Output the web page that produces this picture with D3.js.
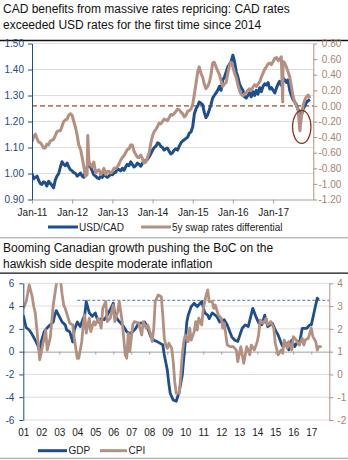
<!DOCTYPE html>
<html lang="en">
<head>
<meta charset="UTF-8">
<title>CAD rates and Canadian growth</title>
<script src="https://cdnjs.cloudflare.com/ajax/libs/d3/7.8.5/d3.min.js"></script>
<style>
  body { margin: 0; background: #fff; }
  svg { display: block; font-family: "Liberation Sans", Arial, sans-serif; }
</style>
</head>
<body>
<script>
// ---- panel 1: USD/CAD vs 5y swap differential, start and middle of each month from Jan 2011
var fxStart = new Date(2011, 0, 1);
var usdcad = [
  1.00, 0.985, 0.975, 0.958, 0.965, 0.97, 0.955, 0.975, 1.00, 1.045, 1.03, 1.025,
  1.01, 1.00, 0.995, 0.99, 1.01, 1.035, 1.01, 0.99, 0.98, 0.985, 0.99, 0.99,
  0.995, 1.005, 1.015, 1.02, 1.025, 1.03, 1.035, 1.03, 1.035, 1.04, 1.05, 1.065,
  1.09, 1.105, 1.115, 1.10, 1.095, 1.085, 1.08, 1.095, 1.105, 1.125, 1.135, 1.155,
  1.18, 1.25, 1.275, 1.265, 1.215, 1.245, 1.29, 1.31, 1.335, 1.36, 1.39, 1.42,
  1.455, 1.39, 1.345, 1.32, 1.29, 1.31, 1.315, 1.32, 1.33, 1.335, 1.34, 1.325,
  1.32, 1.33, 1.355, 1.367, 1.35, 1.32, 1.285, 1.265, 1.24, 1.25, 1.275, 1.285
];
var usdcadMid = [
  0.98, 0.99, 0.962, 0.968, 0.952, 0.962, 0.945, 0.99, 1.025, 1.035, 1.04, 1.015,
  1.003, 0.99, 1.002, 0.985, 1.025, 1.025, 0.995, 0.983, 0.99, 0.995, 0.985, 0.997,
  1.003, 1.018, 1.01, 1.012, 1.035, 1.045, 1.025, 1.04, 1.028, 1.048, 1.055, 1.075,
  1.10, 1.118, 1.105, 1.09, 1.098, 1.075, 1.09, 1.09, 1.118, 1.13, 1.14, 1.16,
  1.23, 1.26, 1.27, 1.235, 1.225, 1.265, 1.30, 1.32, 1.32, 1.37, 1.41, 1.43,
  1.43, 1.37, 1.33, 1.295, 1.30, 1.295, 1.30, 1.305, 1.315, 1.345, 1.35, 1.33,
  1.31, 1.345, 1.34, 1.36, 1.36, 1.30, 1.275, 1.245, 1.225, 1.26, 1.28
];
var swapDiff = [
  -0.46, -0.36, -0.46, -0.50, -0.54, -0.50, -0.44, -0.38, -0.32, -0.26, -0.18, -0.12,
  -0.12, -0.28, -0.50, -0.66, -0.90, -0.70, -0.78, -0.86, -0.82, -0.85, -0.88, -0.84,
  -0.84, -0.80, -0.75, -0.66, -0.60, -0.55, -0.50, -0.62, -0.66, -0.68, -0.72, -0.60,
  -0.38, -0.30, -0.22, -0.20, -0.18, -0.15, -0.12, -0.07, -0.05, -0.10, -0.12, -0.06,
  0.02, 0.30, 0.50, 0.37, 0.22, 0.30, 0.55, 0.50, 0.40, 0.25, 0.30, 0.52,
  0.50, 0.36, 0.20, 0.13, 0.17, 0.22, 0.24, 0.25, 0.31, 0.42, 0.50, 0.55,
  0.57, 0.62, 0.60, 0.57, 0.50, 0.37, 0.12, 0.00, -0.32, 0.01, 0.12, 0.10
];
var swapMid = [
  -0.40, -0.42, -0.47, -0.54, -0.49, -0.45, -0.43, -0.33, -0.32, -0.20, -0.17, -0.10,
  -0.20, -0.38, -0.55, -0.78, -0.88, -0.76, -0.72, -0.83, -0.88, -0.80, -0.84, -0.86,
  -0.80, -0.78, -0.70, -0.64, -0.56, -0.50, -0.58, -0.66, -0.63, -0.73, -0.66, -0.48,
  -0.33, -0.26, -0.23, -0.17, -0.19, -0.11, -0.10, -0.04, -0.08, -0.14, -0.07, -0.04,
  0.15, 0.44, 0.42, 0.28, 0.25, 0.40, 0.56, 0.45, 0.32, 0.28, 0.42, 0.56,
  0.42, 0.27, 0.15, 0.15, 0.20, 0.20, 0.27, 0.28, 0.37, 0.47, 0.54, 0.53,
  0.61, 0.58, 0.63, 0.55, 0.44, 0.25, 0.05, -0.05, -0.12, 0.08, 0.14
];
// one-day moves in the swap spread
var swapSpikes = [["2012-05-22", -0.38], ["2017-03-29", 0.05]];
var fxTickLabels = ["Jan-11", "Jan-12", "Jan-13", "Jan-14", "Jan-15", "Jan-16", "Jan-17"];
var fxLeftTicks = [0.90, 1.00, 1.10, 1.20, 1.30, 1.40, 1.50];
var fxRightTicks = [-1.20, -1.00, -0.80, -0.60, -0.40, -0.20, 0.00, 0.20, 0.40, 0.60, 0.80];
var swapParity = 0.00;

// ---- panel 2: GDP and CPI y/y, months counted from Jan 2001
var gdpStart = new Date(2001, 0, 1);
var gdpMonths = [0,2,4,6,8,10,11,12,14,16,18,20,21,22,24,26,28,29,31,32,33,34,36,38,40,41,42,44,46,48,
  50,52,54,56,58,60,61,63,65,67,69,71,73,75,77,79,81,83,85,87,89,91,93,94,96,97,98,100,102,104,
  106,107,108,109,110,112,114,116,119,121,123,124,126,129,131,134,136,139,141,143,146,148,150,153,155,157,159,161,163,166,
  168,170,172,173,176,177,179,181,183,184,186,189,191,192,194,196,197];
var gdp = [3.2,2.1,1.9,1.5,1.0,0.45,0.0,0.9,1.75,2.1,2.35,2.6,3.2,3.6,3.1,2.6,2.35,1.9,1.75,1.3,
  0.85,1.9,2.6,2.2,2.9,3.2,4.4,3.4,3.1,3.4,2.6,2.9,2.8,3.2,3.7,4.25,3.2,2.8,2.5,2.2,
  1.75,1.6,1.75,2.05,2.5,2.5,2.6,2.05,1.3,1.0,0.9,0.75,0.6,-0.3,-1.6,-2.8,-3.65,-4.25,-4.35,-3.5,
  -2.05,-0.6,0.9,2.6,3.2,3.95,4.25,3.95,4.4,3.4,3.2,2.9,3.4,3.1,2.6,2.8,2.35,1.3,1.0,0.9,
  2.05,2.35,2.2,3.8,3.1,2.5,2.35,3.2,2.2,2.5,1.9,1.45,0.75,0.45,0.75,0.15,1.0,0.45,0.9,0.6,
  2.05,2.05,2.35,2.35,3.5,4.7,4.55];
var cpiMonths = [0,2,4,6,7,8,9,11,12,14,15,16,18,19,20,22,23,24,26,27,28,30,31,33,34,36,37,39,40,41,
  42,44,45,47,48,50,52,53,55,56,58,60,61,63,64,66,68,69,70,71,73,74,77,79,80,82,83,85,86,87,
  88,90,92,93,94,95,96,97,99,100,101,102,104,105,106,107,108,110,111,112,114,115,116,117,119,120,122,123,124,126,
  127,128,130,132,133,134,136,138,140,142,143,145,146,147,149,151,152,154,156,157,158,160,162,163,165,167,168,170,172,173,
  174,176,177,179,180,182,184,186,187,188,190,192,193,195,196,197,199];
var cpi = [2.9,3.2,3.93,3.41,2.98,2.7,2.03,0.64,1.0,1.59,1.95,1.07,1.59,2.32,3.05,3.93,4.4,4.6,3.49,3.05,
  2.9,2.47,2.25,2.17,1.59,0.71,0.71,1.44,2.17,2.61,1.81,2.47,1.88,2.32,2.17,2.47,2.03,2.9,3.2,2.32,
  2.47,3.05,2.32,2.76,3.2,2.32,0.86,0.71,1.81,1.0,2.17,2.32,2.25,1.73,2.32,2.03,2.17,1.73,1.44,2.03,
  3.2,3.49,3.41,2.61,1.59,1.29,1.15,1.37,1.15,0.56,-0.32,-0.83,-0.83,-0.02,0.86,1.44,1.73,1.44,2.03,1.51,
  1.88,2.32,1.95,2.47,2.17,2.9,3.49,3.71,3.2,3.2,2.9,3.05,2.61,2.47,2.03,2.25,1.29,1.22,1.22,1.07,
  0.56,1.22,0.86,0.49,1.22,0.86,1.29,1.07,1.44,1.81,2.39,2.25,2.47,2.17,2.32,2.03,1.37,0.86,1.07,0.93,
  1.51,1.15,1.44,1.07,1.66,1.51,1.29,1.59,1.29,1.51,1.59,2.03,1.66,1.44,1.07,1.22,1.22];
var yearLabels = ["01","02","03","04","05","06","07","08","09","10","11","12","13","14","15","16","17"];
var gdpTicks = [-6, -4, -2, 0, 2, 4, 6];
var cpiTicks = [-2, -1, 0, 1, 2, 3, 4];
var gdpHigh = 4.5, gdpHighFrom = "2004-01-01";

// ---- styles
var blue = "#1f4e8c", brown = "#b39080", gridCol = "#dedede", axisGray = "#a0a0a0";
var blueText = "#1f497d", brownText = "#a9826f";
var loc = d3.formatLocale({decimal: ".", thousands: ",", grouping: [3], currency: ["", ""], minus: "-"});
var f2 = loc.format(".2f"), f0 = loc.format("d");
var parse = d3.timeParse("%Y-%m-%d");

var svg = d3.select("body").append("svg").attr("width", 348).attr("height", 460);

function title(lines, y0) {
  lines.forEach(function(t, i) {
    svg.append("text").attr("x", 3).attr("y", y0 + i * 16).attr("font-size", 12)
      .attr("fill", "#111").text(t);
  });
}
function rule(y, col, w) {
  svg.append("line").attr("x1", 0).attr("x2", 348).attr("y1", y).attr("y2", y)
    .attr("stroke", col).attr("stroke-width", w);
}
function styleAxis(g, col, textCol) {
  g.selectAll("path, line").attr("stroke", col);
  g.selectAll("text").attr("fill", textCol).attr("font-size", 10)
    .attr("font-family", "'Liberation Sans', Arial, sans-serif");
}
// month starts plus mid-month readings, in date order
function halfMonthly(start, vals, mids) {
  var out = [];
  vals.forEach(function(v, i) {
    var d = d3.timeMonth.offset(start, i);
    out.push({date: d, v: v});
    if (i < mids.length) out.push({date: d3.timeDay.offset(d, 15), v: mids[i]});
  });
  return out;
}

title(["CAD benefits from massive rates repricing: CAD rates",
       "exceeded USD rates for the first time since 2014"], 13);
rule(40.5, "#111", 1.3);

// ================= panel 1 =================
var p1 = {l: 32, r: 313.3, t: 43.5, b: 199.5};
var x1 = d3.scaleTime().domain([fxStart, new Date(2018, 0, 1)]).range([p1.l, p1.r]);
var yL1 = d3.scaleLinear().domain([0.9, 1.5]).range([p1.b, p1.t]);
var yR1 = d3.scaleLinear().domain([-1.2, 0.8]).range([p1.b, p1.t]);

svg.append("g").selectAll("line").data(fxLeftTicks.slice(1)).enter().append("line")
  .attr("x1", p1.l).attr("x2", p1.r)
  .attr("y1", function(d) { return yL1(d); }).attr("y2", function(d) { return yL1(d); })
  .attr("stroke", gridCol).attr("stroke-width", 1);

var janTicks = fxTickLabels.map(function(d, i) { return d3.timeYear.offset(fxStart, i); });
var gx1 = svg.append("g").attr("transform", "translate(0," + p1.b + ")")
  .call(d3.axisBottom(x1).tickValues(janTicks).tickSize(4).tickSizeOuter(0).tickPadding(5)
    .tickFormat(function(d, i) { return fxTickLabels[i]; }));
styleAxis(gx1, axisGray, "#222");

svg.append("line").attr("x1", p1.l).attr("x2", p1.r)
  .attr("y1", yR1(swapParity)).attr("y2", yR1(swapParity))
  .attr("stroke", "#b0806b").attr("stroke-width", 1.8).attr("stroke-dasharray", "5,3");

svg.append("clipPath").attr("id", "clip1").append("rect")
  .attr("x", p1.l).attr("y", p1.t - 2).attr("width", p1.r - p1.l).attr("height", p1.b - p1.t + 2);

var fxData = halfMonthly(fxStart, usdcad, usdcadMid);
var swapData = halfMonthly(fxStart, swapDiff, swapMid)
  .concat(swapSpikes.map(function(s) { return {date: parse(s[0]), v: s[1]}; }))
  .sort(function(a, b) { return a.date - b.date; });

var lineL1 = d3.line().x(function(d) { return x1(d.date); }).y(function(d) { return yL1(d.v); });
var lineR1 = d3.line().x(function(d) { return x1(d.date); }).y(function(d) { return yR1(d.v); });

var plot1 = svg.append("g").attr("clip-path", "url(#clip1)");
plot1.append("path").datum(fxData).attr("d", lineL1).attr("fill", "none")
  .attr("stroke", blue).attr("stroke-width", 3).attr("stroke-linejoin", "round");
plot1.append("path").datum(swapData).attr("d", lineR1).attr("fill", "none")
  .attr("stroke", brown).attr("stroke-width", 3).attr("stroke-linejoin", "round");

var gl1 = svg.append("g").attr("transform", "translate(" + p1.l + ",0)")
  .call(d3.axisLeft(yL1).tickValues(fxLeftTicks).tickSize(4).tickSizeOuter(0).tickPadding(4).tickFormat(f2));
styleAxis(gl1, blue, blueText);
var gr1 = svg.append("g").attr("transform", "translate(" + p1.r + ",0)")
  .call(d3.axisRight(yR1).tickValues(fxRightTicks).tickSize(4).tickSizeOuter(0).tickFormat(f2));
styleAxis(gr1, brown, brownText);
gr1.selectAll("text").attr("text-anchor", "end").attr("x", 28);

// ring around the latest dip of the spread
svg.append("ellipse")
  .attr("cx", x1(parse("2017-09-18"))).attr("cy", yR1(-0.27))
  .attr("rx", 9.2).attr("ry", 16.5)
  .attr("fill", "none").attr("stroke", "#8c2d1e").attr("stroke-width", 1.2);

// legend
var leg1 = [{name: "USD/CAD", col: blue, x: 48}, {name: "5y swap rates differential", col: brown, x: 141}];
leg1.forEach(function(d) {
  svg.append("line").attr("x1", d.x).attr("x2", d.x + 30).attr("y1", 227).attr("y2", 227)
    .attr("stroke", d.col).attr("stroke-width", 3);
  svg.append("text").attr("x", d.x + 31).attr("y", 230.5).attr("font-size", 10).attr("fill", "#222").text(d.name);
});

rule(237.8, "#9a9a9a", 1);

// ================= panel 2 =================
title(["Booming Canadian growth pushing the BoC on the",
       "hawkish side despite moderate inflation"], 252);
rule(273.2, "#111", 1.3);

var p2 = {l: 23.3, r: 329.3, t: 283.3, b: 420};
var x2 = d3.scaleTime().domain([gdpStart, new Date(2018, 0, 1)]).range([p2.l, p2.r]);
var yL2 = d3.scaleLinear().domain([-6, 6]).range([p2.b, p2.t]);
var yR2 = d3.scaleLinear().domain([-2, 4]).range([p2.b, p2.t]);

svg.append("g").selectAll("line").data(gdpTicks.filter(function(d) { return d !== 0; })).enter().append("line")
  .attr("x1", p2.l).attr("x2", p2.r)
  .attr("y1", function(d) { return yL2(d); }).attr("y2", function(d) { return yL2(d); })
  .attr("stroke", gridCol).attr("stroke-width", 1);

var yearTicks = yearLabels.map(function(d, i) { return d3.timeYear.offset(gdpStart, i); });
// zero line with year ticks
var gz = svg.append("g").attr("transform", "translate(0," + yL2(0) + ")")
  .call(d3.axisBottom(x2).tickValues(yearTicks).tickSize(3).tickSizeOuter(0).tickFormat(""));
gz.selectAll("path, line").attr("stroke", axisGray);
// year labels under the plot
var gx2 = svg.append("g").attr("transform", "translate(0," + p2.b + ")")
  .call(d3.axisBottom(x2).tickValues(yearTicks).tickSize(0).tickPadding(9)
    .tickFormat(function(d, i) { return yearLabels[i]; }));
gx2.select(".domain").remove();
styleAxis(gx2, axisGray, "#222");

svg.append("line").attr("x1", x2(parse(gdpHighFrom))).attr("x2", p2.r)
  .attr("y1", yL2(gdpHigh)).attr("y2", yL2(gdpHigh))
  .attr("stroke", "#7090c0").attr("stroke-width", 1.3).attr("stroke-dasharray", "3,2");

svg.append("clipPath").attr("id", "clip2").append("rect")
  .attr("x", p2.l).attr("y", p2.t).attr("width", p2.r - p2.l).attr("height", p2.b - p2.t);

var gdpData = gdp.map(function(v, i) { return {date: d3.timeMonth.offset(gdpStart, gdpMonths[i]), v: v}; });
var cpiData = cpi.map(function(v, i) { return {date: d3.timeMonth.offset(gdpStart, cpiMonths[i]), v: v}; });

var plot2 = svg.append("g").attr("clip-path", "url(#clip2)");
plot2.append("path").datum(gdpData)
  .attr("d", d3.line().x(function(d) { return x2(d.date); }).y(function(d) { return yL2(d.v); }))
  .attr("fill", "none").attr("stroke", blue).attr("stroke-width", 2.8).attr("stroke-linejoin", "round");
plot2.append("path").datum(cpiData)
  .attr("d", d3.line().x(function(d) { return x2(d.date); }).y(function(d) { return yR2(d.v); }))
  .attr("fill", "none").attr("stroke", brown).attr("stroke-width", 2.8).attr("stroke-linejoin", "round");

var gl2 = svg.append("g").attr("transform", "translate(" + p2.l + ",0)")
  .call(d3.axisLeft(yL2).tickValues(gdpTicks).tickSize(4).tickSizeOuter(0).tickPadding(5).tickFormat(f0));
styleAxis(gl2, blue, blueText);
var gr2 = svg.append("g").attr("transform", "translate(" + p2.r + ",0)")
  .call(d3.axisRight(yR2).tickValues(cpiTicks).tickSize(4).tickSizeOuter(0).tickPadding(4).tickFormat(f0));
styleAxis(gr2, brown, brownText);

var leg2 = [{name: "GDP", col: blue, x: 38, w: 29}, {name: "CPI", col: brown, x: 100, w: 27}];
leg2.forEach(function(d) {
  svg.append("line").attr("x1", d.x).attr("x2", d.x + d.w).attr("y1", 450.7).attr("y2", 450.7)
    .attr("stroke", d.col).attr("stroke-width", 3);
  svg.append("text").attr("x", d.x + d.w + 1.5).attr("y", 454.3).attr("font-size", 10).attr("fill", "#222").text(d.name);
});

rule(458.3, "#9a9a9a", 1);
</script>
</body>
</html>
